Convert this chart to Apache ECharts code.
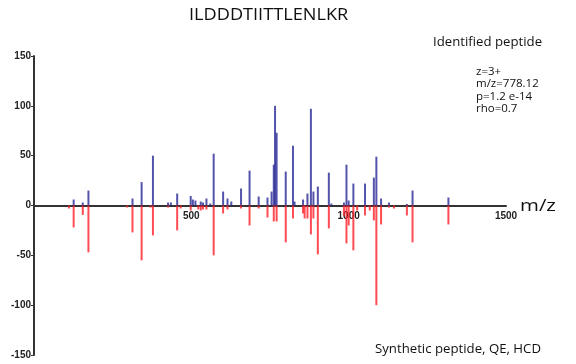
<!DOCTYPE html>
<html>
<head>
<meta charset="utf-8">
<script src="https://cdn.jsdelivr.net/npm/echarts@6/dist/echarts.min.js"></script>
<style>html,body{margin:0;padding:0;background:#fff}#c{width:576px;height:364px}</style>
</head>
<body>
<div id="c"></div>
<script>
const titleText = 'ILDDDTIITTLENLKR';
const xTicks = [500, 1000, 1500];
const yTicks = [-150, -100, -50, 0, 50, 100, 150];
// Identified peptide spectrum (upper, blue): m/z and intensity
const identifiedMz = [126,155,173,313,342,378,426,435,455,498,505,513,530,537,548,560,571,601,615,627,658,685,714,742,755,762,766,771,800,823,828,855,869,880,888,902,937,945,985,993,1000,1015,1052,1080,1088,1103,1128,1185,1203,1317];
const identifiedInt = [6,3,15,7,23.5,50,3,3,12,9.5,6,5,4,3,7,2,52,14,7,4,17,35,9,8,14,41,100,73,34,60,4,6,12,97,14,19,33,2,3,41,5,22,22,28,49,7,3,1.5,15,8];
// Synthetic peptide spectrum (lower, red): m/z and intensity
const syntheticMz = [111,126,155,173,296,313,342,370,378,426,455,466,498,522,530,537,548,571,601,615,658,685,714,742,762,771,800,823,855,860,869,880,888,902,937,985,993,1000,1015,1027,1052,1067,1080,1088,1103,1128,1144,1185,1203,1317];
const syntheticInt = [-3,-22,-9.5,-47,-2,-27,-55,-2,-30,-2,-25,-3,-5,-4,-5,-4,-4,-50,-8,-4,-3,-20,-3,-12,-16,-16,-37,-13,-8,-13,-13,-29,-13,-49,-23,-10,-38,-20,-45,-5,-10,-5,-15,-100,-19,-2,-3,-10,-37,-19];
const annotation = ['z=3+', 'm/z=778.12', 'p=1.2 e-14', 'rho=0.7'];

const chart = echarts.init(document.getElementById('c'), null, {renderer: 'canvas'});
const font = 'Liberation Sans, Arial, sans-serif';
const textFont = '"Open Sans", "Noto Sans", sans-serif';
const gridH = 299;
chart.setOption({
  animation: false,
  backgroundColor: '#fff',
  grid: {left: 34, top: 56, width: 472, height: gridH, containLabel: false, outerBoundsMode: 'none'},
  xAxis: {
    type: 'value', min: 0, max: 1500, interval: 500, position: 'bottom', offset: -gridH / 2,
    axisLine: {onZero: false, lineStyle: {color: '#333', width: 2}},
    axisTick: {show: false},
    splitLine: {show: false},
    axisLabel: {
      fontFamily: font, fontSize: 10, fontWeight: 'bold', color: '#222', margin: 6,
      formatter: v => xTicks.includes(v) ? String(v) : ''
    }
  },
  yAxis: {
    type: 'value', min: -150, max: 150, interval: 50,
    axisLine: {show: true, lineStyle: {color: '#333', width: 2}},
    axisTick: {show: true, length: 3, lineStyle: {color: '#333', width: 1}},
    splitLine: {show: false},
    axisLabel: {fontFamily: font, fontSize: 10, fontWeight: 'bold', color: '#222', margin: 3,
      formatter: v => yTicks.includes(v) ? String(v) : ''}
  },
  series: [
    {
      type: 'bar', name: 'Identified', barWidth: 2, barGap: '-100%',
      itemStyle: {color: 'rgba(40,40,150,0.8)'},
      data: identifiedMz.map((m, i) => [m, identifiedInt[i]])
    },
    {
      type: 'bar', name: 'Synthetic', barWidth: 2, barGap: '-100%',
      itemStyle: {color: 'rgba(255,30,40,0.8)'},
      data: syntheticMz.map((m, i) => [m, syntheticInt[i]])
    }
  ],
  graphic: [
    {type: 'text', x: 189, y: 7, scaleX: 1.1, style: {text: titleText, fontFamily: textFont, fontSize: 16.5, fill: '#111'}},
    {type: 'text', x: 520, y: 198, scaleX: 1.2, style: {text: 'm/z', fontFamily: textFont, fontSize: 17, fill: '#111'}},
    {type: 'text', x: 433, y: 37, scaleX: 1.1, style: {text: 'Identified peptide', fontFamily: textFont, fontSize: 12, fill: '#111'}},
    {type: 'text', x: 476, y: 66, scaleX: 1.15, style: {text: annotation.join('\n'), fontFamily: textFont, fontSize: 10, lineHeight: 12.3, fill: '#111'}},
    {type: 'text', x: 375, y: 344, scaleX: 1.1, style: {text: 'Synthetic peptide, QE, HCD', fontFamily: textFont, fontSize: 12, fill: '#111'}}
  ]
});
</script>
</body>
</html>
